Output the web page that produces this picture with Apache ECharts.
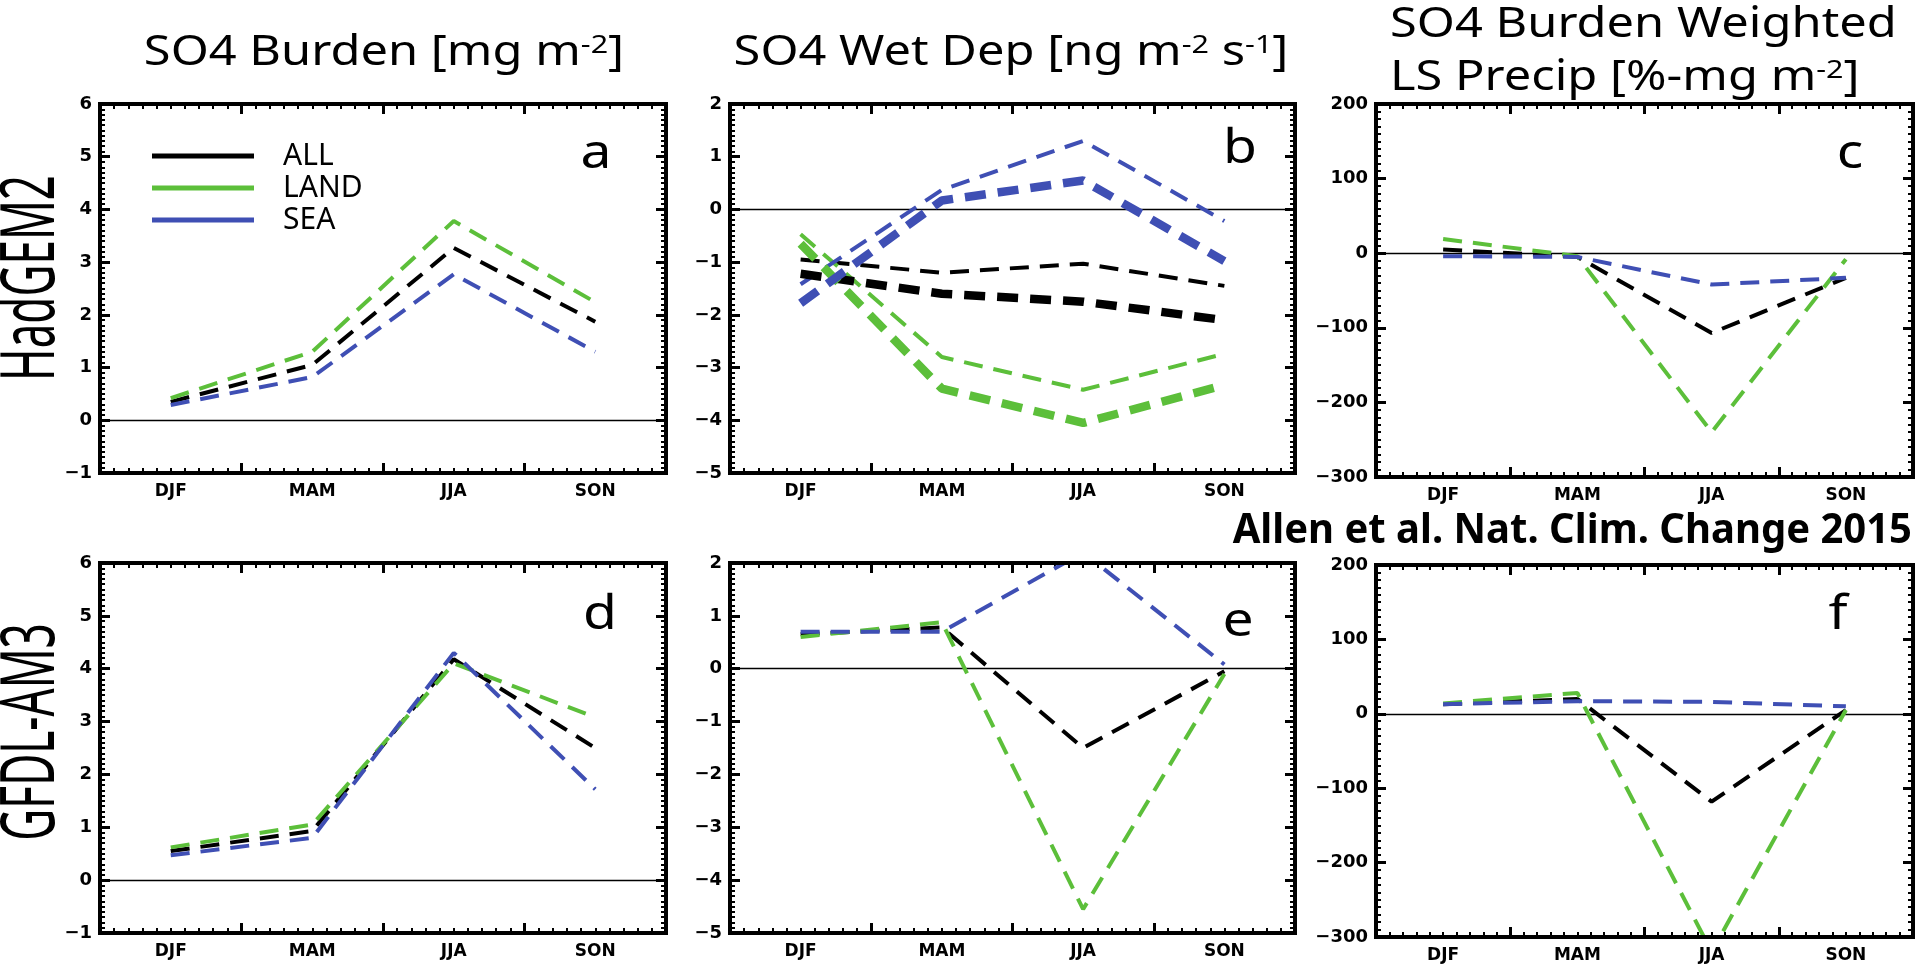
<!DOCTYPE html>
<html><head><meta charset="utf-8">
<script src="https://cdn.jsdelivr.net/npm/echarts@6/dist/echarts.min.js"></script>
<style>html,body{margin:0;padding:0;background:#fff}#c{width:1917px;height:966px}</style>
</head><body><div id="c"></div>
<script>
// ---------------- DATA ----------------
const seasons = ['DJF', 'MAM', 'JJA', 'SON'];
const seriesNames = ['ALL', 'LAND', 'SEA'];

// a: HadGEM2 SO4 burden
const hadBurdenAll  = [0.35, 1.05, 3.27, 1.87];
const hadBurdenLand = [0.42, 1.30, 3.78, 2.24];
const hadBurdenSea  = [0.29, 0.82, 2.77, 1.30];
// b: HadGEM2 SO4 wet deposition (thin and thick dashed sets)
const hadWetAll       = [-0.95, -1.20, -1.03, -1.45];
const hadWetLand      = [-0.47, -2.80, -3.42, -2.74];
const hadWetSea       = [-1.42, 0.37, 1.30, -0.22];
const hadWetAllThick  = [-1.22, -1.60, -1.75, -2.10];
const hadWetLandThick = [-0.65, -3.40, -4.05, -3.33];
const hadWetSeaThick  = [-1.78, 0.17, 0.55, -0.98];
// c: HadGEM2 burden weighted LS precip
const hadPrecAll  = [5, -5, -107, -33];
const hadPrecLand = [19, -4, -240, -8];
const hadPrecSea  = [-4, -5, -42, -33];
// d: GFDL-AM3 SO4 burden
const gfdlBurdenAll  = [0.55, 0.93, 4.18, 2.50];
const gfdlBurdenLand = [0.62, 1.05, 4.10, 3.08];
const gfdlBurdenSea  = [0.47, 0.80, 4.30, 1.72];
// e: GFDL-AM3 SO4 wet deposition
const gfdlWetAll  = [0.65, 0.78, -1.50, -0.05];
const gfdlWetLand = [0.60, 0.88, -4.55, -0.10];
const gfdlWetSea  = [0.70, 0.70, 2.20, 0.08];
// f: GFDL-AM3 burden weighted LS precip
const gfdlPrecAll  = [13, 20, -118, 5];
const gfdlPrecLand = [14, 28, -320, 5];
const gfdlPrecSea  = [13, 17, 16, 10];

// axis ranges [min, max, interval]
const burdenTicks = [-1, 6, 1];
const wetTicks    = [-5, 2, 1];
const precTicks   = [-300, 200, 100];

// texts
const colTitles = ['SO4 Burden [mg m{s|-2}]', 'SO4 Wet Dep [ng m{s|-2} s{s|-1}]'];
const colTitleC = ['SO4 Burden Weighted', 'LS Precip [%-mg m{s|-2}]'];
const rowTitles = ['HadGEM2', 'GFDL-AM3'];
const panelLetters = ['a', 'b', 'c', 'd', 'e', 'f'];
const citation = 'Allen et al. Nat. Clim. Change 2015';

// ---------------- STYLE ----------------
const COLORS = { ALL: '#000000', LAND: '#5cbf3a', SEA: '#3f4fb4' };
const THIN = { width: 4, dash: [19, 11] };
const THICK = { width: 8.5, dash: [21, 12] };

const layout = [
  { left: 100, top: 104, width: 566, height: 369 },
  { left: 730, top: 104, width: 565, height: 369 },
  { left: 1376, top: 104, width: 537, height: 373 },
  { left: 100, top: 563, width: 566, height: 370 },
  { left: 730, top: 563, width: 565, height: 370 },
  { left: 1376, top: 565, width: 537, height: 372 }
];

function sset(a, l, s, st) {
  return [['ALL', a], ['LAND', l], ['SEA', s]].map(([n, d]) => ({ name: n, data: d, st: st }));
}
const panels = [
  { ticks: burdenTicks, lines: sset(hadBurdenAll, hadBurdenLand, hadBurdenSea, THIN) },
  { ticks: wetTicks, lines: sset(hadWetAll, hadWetLand, hadWetSea, THIN)
      .concat(sset(hadWetAllThick, hadWetLandThick, hadWetSeaThick, THICK)) },
  { ticks: precTicks, lines: sset(hadPrecAll, hadPrecLand, hadPrecSea, THIN) },
  { ticks: burdenTicks, lines: sset(gfdlBurdenAll, gfdlBurdenLand, gfdlBurdenSea, THIN) },
  { ticks: wetTicks, lines: sset(gfdlWetAll, gfdlWetLand, gfdlWetSea, THIN) },
  { ticks: precTicks, lines: sset(gfdlPrecAll, gfdlPrecLand, gfdlPrecSea, THIN) }
];

const BLACK = '#000';
const mkAxisLine = () => ({ show: true, onZero: false, lineStyle: { color: BLACK, width: 4, cap: 'square' } });
const mkMajor = () => ({ show: true, inside: true, length: 10, lineStyle: { color: BLACK, width: 3 } });
const mkMinor = () => ({ show: true, splitNumber: 10, length: 5, lineStyle: { color: BLACK, width: 2 } });
const labelFont = { color: BLACK, fontFamily: 'DejaVu Sans', fontWeight: 'bold' };

const grid = [], xAxis = [], yAxis = [], series = [];
panels.forEach((p, i) => {
  grid.push(Object.assign({ show: true, borderColor: BLACK, borderWidth: 4, backgroundColor: 'transparent',
    containLabel: false }, layout[i]));
  // category axis for labels & data
  xAxis.push({ type: 'category', gridIndex: i, data: seasons, position: 'bottom', boundaryGap: true,
    axisLine: { show: false, onZero: false }, axisTick: { show: false },
    axisLabel: Object.assign({ margin: 10, interval: 0, fontSize: 17 }, labelFont), splitLine: { show: false } });
  // bottom frame with ticks
  xAxis.push({ type: 'value', gridIndex: i, position: 'bottom', min: 0, max: 4, interval: 1,
    axisLine: mkAxisLine(), axisTick: mkMajor(), minorTick: mkMinor(),
    axisLabel: { show: false }, splitLine: { show: false } });
  // top frame
  xAxis.push({ type: 'value', gridIndex: i, position: 'top', min: 0, max: 4, interval: 1,
    axisLine: mkAxisLine(), axisTick: mkMajor(), minorTick: mkMinor(),
    axisLabel: { show: false }, splitLine: { show: false } });
  const [mn, mx, iv] = p.ticks;
  yAxis.push({ type: 'value', gridIndex: i, position: 'left', min: mn, max: mx, interval: iv,
    axisLine: mkAxisLine(), axisTick: mkMajor(), minorTick: mkMinor(),
    axisLabel: Object.assign({ margin: 8, fontSize: 18,
      formatter: v => String(v).replace('-', '\u2212') }, labelFont),
    splitLine: { show: false } });
  yAxis.push({ type: 'value', gridIndex: i, position: 'right', min: mn, max: mx, interval: iv,
    axisLine: mkAxisLine(), axisTick: mkMajor(), minorTick: mkMinor(),
    axisLabel: { show: false }, splitLine: { show: false } });
  p.lines.forEach((ln, k) => {
    const s = {
      type: 'line', name: ln.st === THICK ? ln.name + ' (2)' : ln.name,
      xAxisIndex: 3 * i, yAxisIndex: 2 * i, data: ln.data,
      showSymbol: false, symbol: 'none', clip: true, silent: true,
      color: COLORS[ln.name], itemStyle: { color: COLORS[ln.name] },
      lineStyle: { color: COLORS[ln.name], width: ln.st.width, type: ln.st.dash, cap: 'butt' },
      z: 3
    };
    if (k === 0) {
      s.markLine = { silent: true, symbol: 'none', label: { show: false },
        lineStyle: { color: BLACK, width: 1.4, type: 'solid' }, data: [{ yAxis: 0 }], z: 2 };
    }
    series.push(s);
  });
});

// ---------------- TEXT / FRAME GRAPHICS ----------------
function txt(text, x, y, o) {
  return {
    type: 'text', x: x, y: y, silent: true,
    rotation: o.rotation || 0, scaleX: o.sx || 1, scaleY: o.sy || 1, z: 10,
    style: {
      text: text, fill: BLACK, fontFamily: o.family || 'Noto Sans', fontSize: o.size,
      fontWeight: o.weight || 'normal', align: o.align || 'center', verticalAlign: 'middle',
      rich: o.rich
    }
  };
}
const supRich = { s: { fontSize: 25, fontFamily: 'Noto Sans', verticalAlign: 'top', padding: [0, 0, 14, 0] } };
const graphics = [
  txt(colTitles[0], 384, 53, { size: 40, sx: 1.22, sy: 1.05, rich: supRich }),
  txt(colTitles[1], 1011, 53, { size: 40, sx: 1.22, sy: 1.05, rich: supRich }),
  txt(colTitleC[0], 1390, 25, { size: 40, sx: 1.22, sy: 1.05, align: 'left' }),
  txt(colTitleC[1], 1390, 78, { size: 40, sx: 1.22, sy: 1.05, align: 'left', rich: supRich }),
  txt(rowTitles[0], 33, 278, { size: 44, rotation: Math.PI / 2, sy: 1.7 }),
  txt(rowTitles[1], 33, 732, { size: 44, rotation: Math.PI / 2, sy: 1.7 }),
  txt(citation, 1912, 531, { size: 40, weight: 'bold', align: 'right', sy: 1.05 })
];
const letterPos = [[596, 154], [1240, 149], [1850, 154], [600, 615], [1238, 622], [1838, 615]];
panelLetters.forEach((l, i) => graphics.push(txt(l, letterPos[i][0], letterPos[i][1], { size: 48, sx: 1.15 })));
// heavy panel frames (same boxes as the grids)
layout.forEach(g => graphics.push({
  type: 'rect', silent: true, z: 9,
  shape: { x: g.left, y: g.top, width: g.width, height: g.height },
  style: { fill: null, stroke: BLACK, lineWidth: 4 }
}));

const chart = echarts.init(document.getElementById('c'), null, { renderer: 'canvas' });
chart.setOption({
  animation: false,
  backgroundColor: '#fff',
  grid: grid, xAxis: xAxis, yAxis: yAxis, series: series,
  legend: {
    data: seriesNames, left: 147, top: 135, orient: 'vertical', icon: 'rect',
    itemWidth: 102, itemHeight: 5, itemGap: 0, selectedMode: false,
    itemStyle: { borderWidth: 0 },
    textStyle: { fontSize: 30, fontFamily: 'Noto Sans', color: BLACK, lineHeight: 32, padding: [0, 0, 0, 24] }
  },
  graphic: { elements: graphics }
});
</script>
</body></html>
